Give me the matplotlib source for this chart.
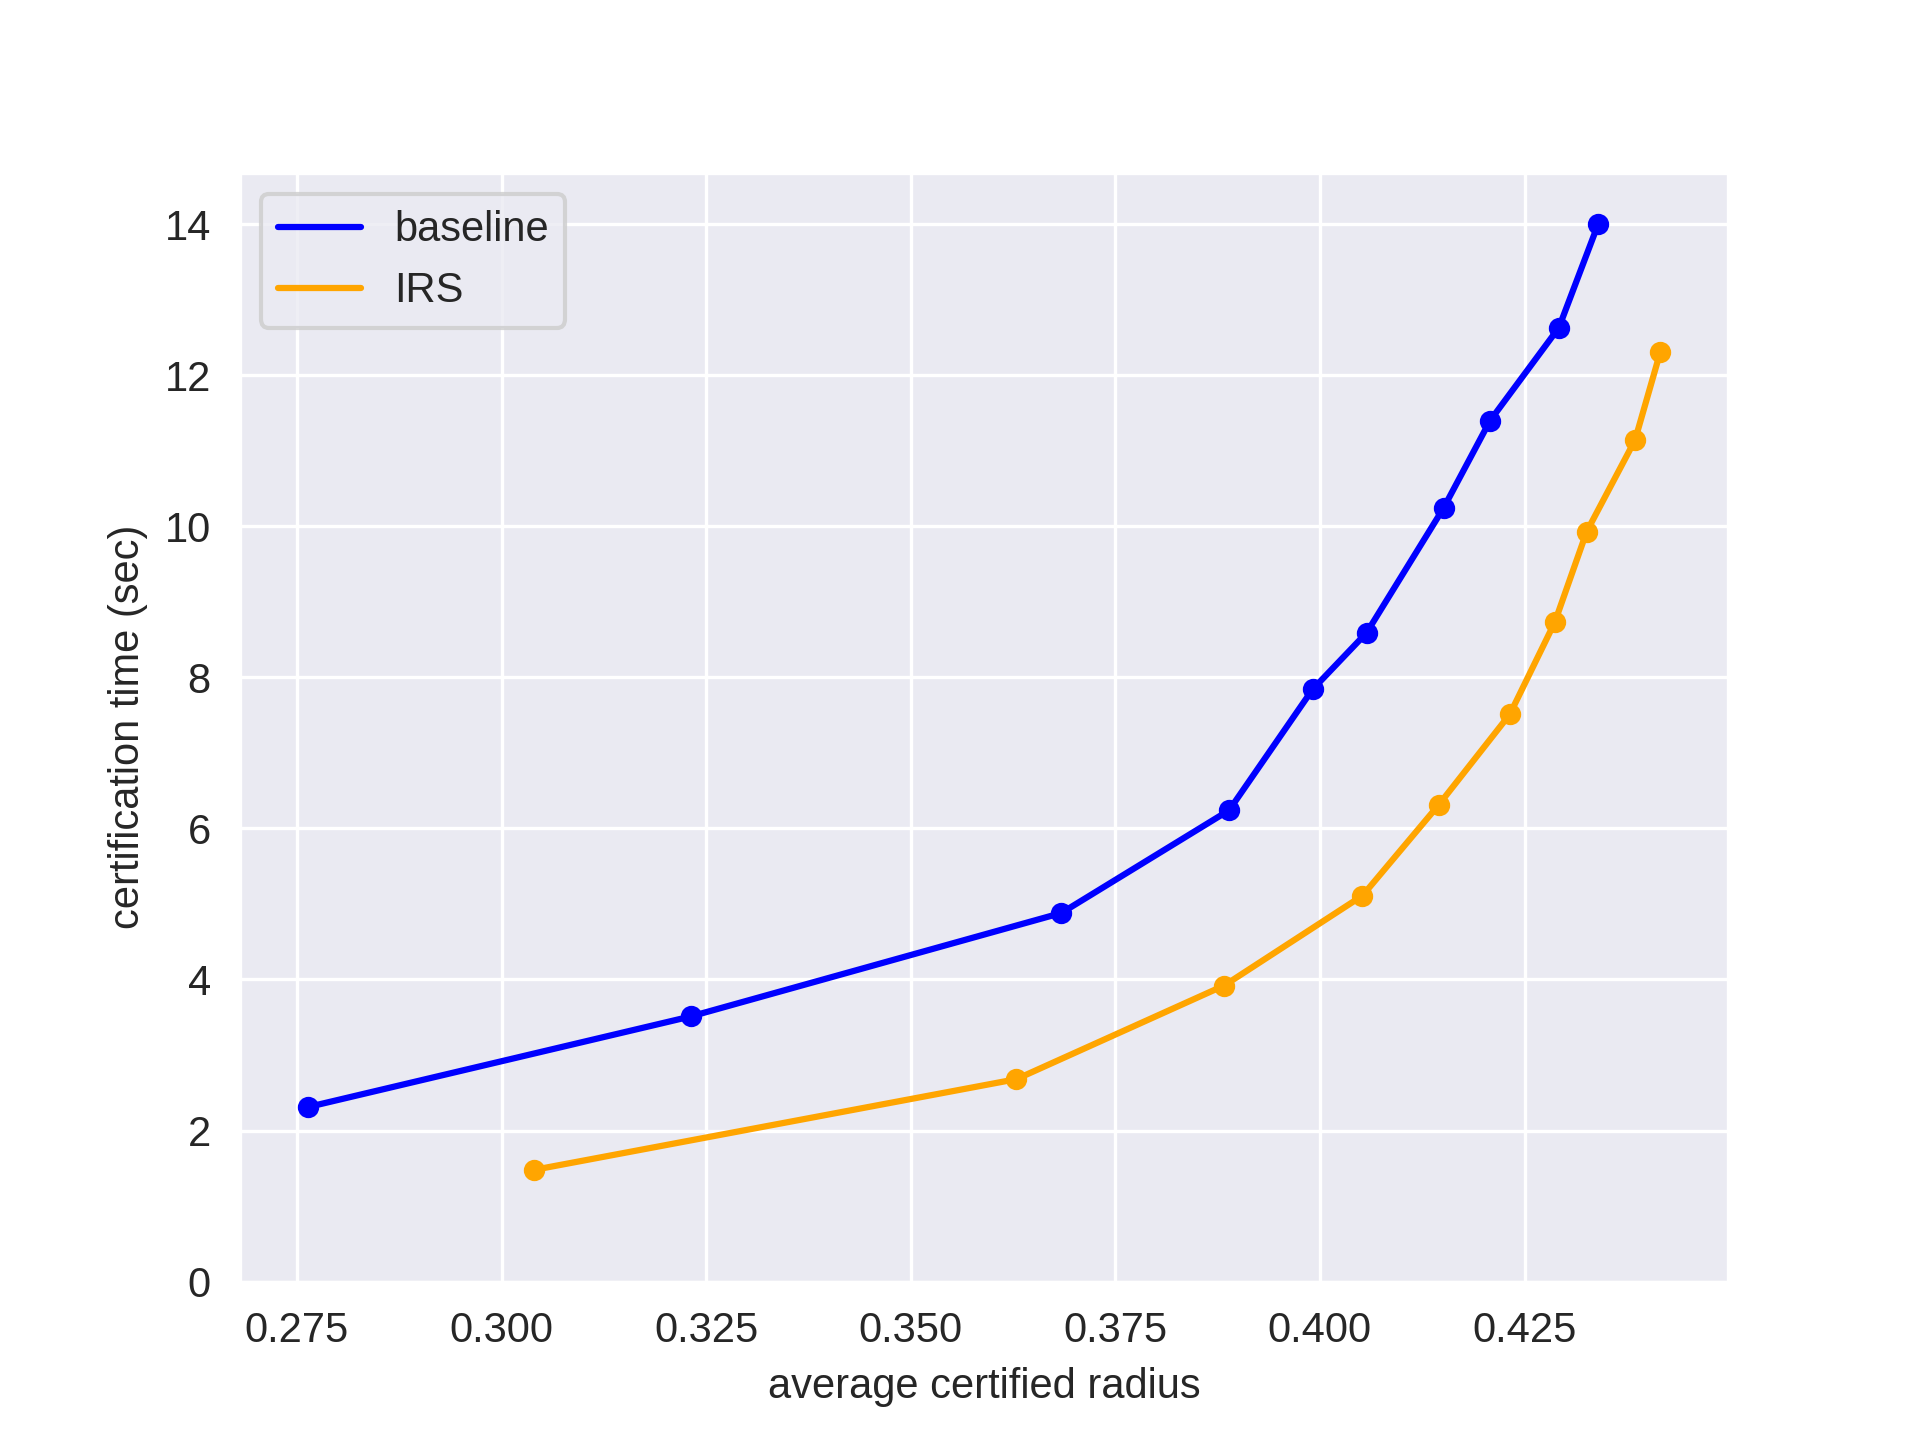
import matplotlib

matplotlib.use("Agg")
import matplotlib.pyplot as plt  # noqa: E402
import seaborn as sns  # noqa: E402

# average certified radius vs certification time (sec)
baseline_acr = [0.2763, 0.3231, 0.3684, 0.3889, 0.3991, 0.4057, 0.4151, 0.4208, 0.4292, 0.4340]
baseline_time = [2.31, 3.51, 4.88, 6.24, 7.84, 8.59, 10.24, 11.40, 12.63, 14.00]

irs_acr = [0.3040, 0.3629, 0.3883, 0.4052, 0.4145, 0.4232, 0.4287, 0.4326, 0.4385, 0.4416]
irs_time = [1.48, 2.68, 3.92, 5.11, 6.31, 7.51, 8.73, 9.93, 11.14, 12.31]

sns.set_style("darkgrid")
plt.rcParams["font.family"] = ["Liberation Sans", "DejaVu Sans"]

fig, ax = plt.subplots(figsize=(6.4, 4.8), dpi=300)
ax.plot(baseline_acr, baseline_time, color="blue", label="baseline")
ax.scatter(baseline_acr, baseline_time, color="blue", s=17, zorder=3)
ax.plot(irs_acr, irs_time, color="orange", label="IRS")
ax.scatter(irs_acr, irs_time, color="orange", s=17, zorder=3)
ax.set_ylim(0, 14.68)
ax.set_xlabel("average certified radius")
ax.set_ylabel("certification time (sec)")
ax.legend(loc="upper left")
fig.savefig("out.png", dpi=300)
plt.close(fig)
